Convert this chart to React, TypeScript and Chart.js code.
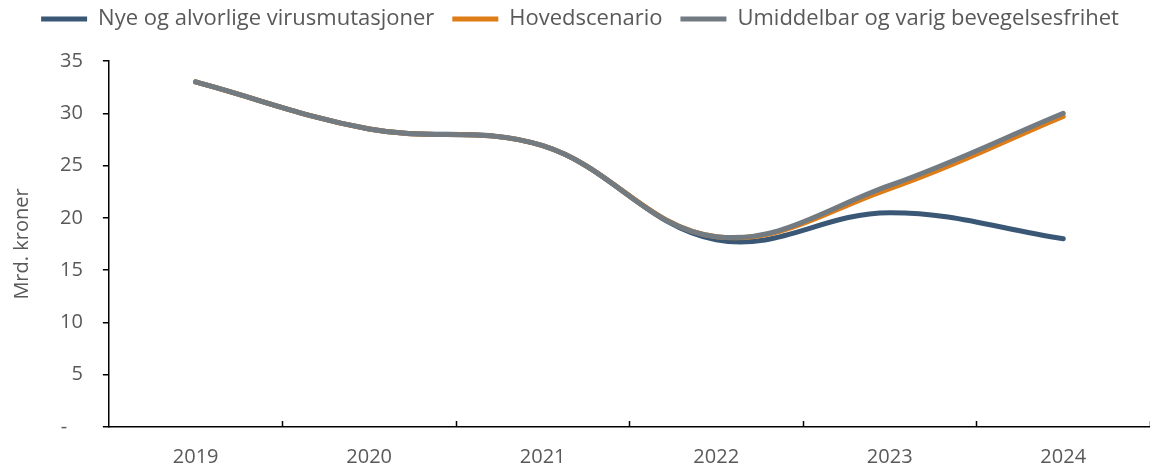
import React, { useEffect, useRef } from "react";
import { Chart, registerables } from "chart.js";

Chart.register(...registerables);

const years = ["2019", "2020", "2021", "2022", "2023", "2024"];
const nyeVirus = [33.0, 28.5, 26.9, 17.9, 20.5, 18.0];
const hovedscenario = [33.0, 28.5, 26.9, 18.2, 22.8, 29.7];
const umiddelbar = [33.0, 28.5, 26.9, 18.2, 23.1, 30.0];
const yTicks = [0, 5, 10, 15, 20, 25, 30, 35];

const TEXT = "#595959";
const FONT = "'Open Sans', 'Liberation Sans', sans-serif";

const innerTicks = {
  id: "innerTicks",
  afterDraw(chart: any) {
    const x = chart.scales.x;
    const ctx = chart.ctx;
    const bottom = chart.chartArea.bottom;
    ctx.save();
    ctx.strokeStyle = "#000";
    ctx.lineWidth = 1.5;
    const n = chart.data.labels.length;
    const step = x.getPixelForValue(1) - x.getPixelForValue(0);
    for (let i = 0; i < n; i++) {
      const xx = x.getPixelForValue(i) + step / 2;
      ctx.beginPath();
      ctx.moveTo(Math.round(xx) + 0.5, bottom);
      ctx.lineTo(Math.round(xx) + 0.5, bottom - 6);
      ctx.stroke();
    }
    ctx.restore();
  },
};

const legendSpace = {
  id: "legendSpace",
  beforeInit(chart: any) {
    const lg = chart.legend;
    if (!lg) return;
    const orig = lg.fit;
    lg.fit = function () {
      orig.call(this);
      this.height += 21;
    };
  },
};

export default function App() {
  const ref = useRef<HTMLCanvasElement | null>(null);
  useEffect(() => {
    if (!ref.current) return;
    const mk = (label: string, data: number[], color: string, order: number) => ({
      label,
      data,
      borderColor: color,
      backgroundColor: color,
      borderWidth: 5,
      borderCapStyle: "round" as const,
      pointRadius: 0,
      pointStyle: "line" as const,
      tension: 0.38,
      fill: false,
      order,
    });
    const chart = new Chart(ref.current, {
      type: "line",
      data: {
        labels: years,
        datasets: [
          mk("Nye og alvorlige virusmutasjoner", nyeVirus, "#3A5876", 2),
          mk("Hovedscenario", hovedscenario, "#DE7D18", 1),
          mk("Umiddelbar og varig bevegelsesfrihet", umiddelbar, "#737B82", 0),
        ],
      },
      options: {
        animation: false,
        responsive: false,
        maintainAspectRatio: false,
        layout: { padding: { left: 10, right: 0, top: -10, bottom: -19 } },
        plugins: {
          tooltip: { enabled: false },
          legend: {
            position: "top",
            labels: {
              usePointStyle: true,
              pointStyle: "line",
              pointStyleWidth: 46,
              boxWidth: 46,
              padding: 18,
              color: TEXT,
              font: { family: FONT, size: 22 },
              sort: (a: any, b: any) => a.datasetIndex - b.datasetIndex,
            },
          },
        },
        scales: {
          x: {
            offset: true,
            grid: { display: false, drawTicks: false },
            border: { display: true, color: "#000", width: 1.5 },
            ticks: { color: TEXT, font: { family: FONT, size: 20 }, padding: 18, maxRotation: 0 },
          },
          y: {
            min: 0,
            max: 35,
            afterBuildTicks: (s: any) => {
              s.ticks = yTicks.map((v) => ({ value: v }));
            },
            grid: { drawOnChartArea: false, drawTicks: true, tickLength: 6, color: "#000", lineWidth: 1.5 },
            border: { display: true, color: "#000", width: 1.5 },
            ticks: {
              color: TEXT,
              font: { family: FONT, size: 20 },
              padding: 20,
              callback: (v: any) => (Number(v) === 0 ? "-   " : String(v)),
            },
            title: {
              display: true,
              text: "Mrd. kroner",
              color: TEXT,
              font: { family: FONT, size: 20 },
              padding: { top: 0, bottom: 6 },
            },
          },
        },
      },
      plugins: [legendSpace, innerTicks],
    });
    return () => chart.destroy();
  }, []);
  return (
    <div style={{ position: "fixed", left: 0, top: 0, width: 1150, height: 468, background: "#fff" }}>
      <canvas ref={ref} width={1150} height={468} style={{ width: 1150, height: 468 }} />
    </div>
  );
}
